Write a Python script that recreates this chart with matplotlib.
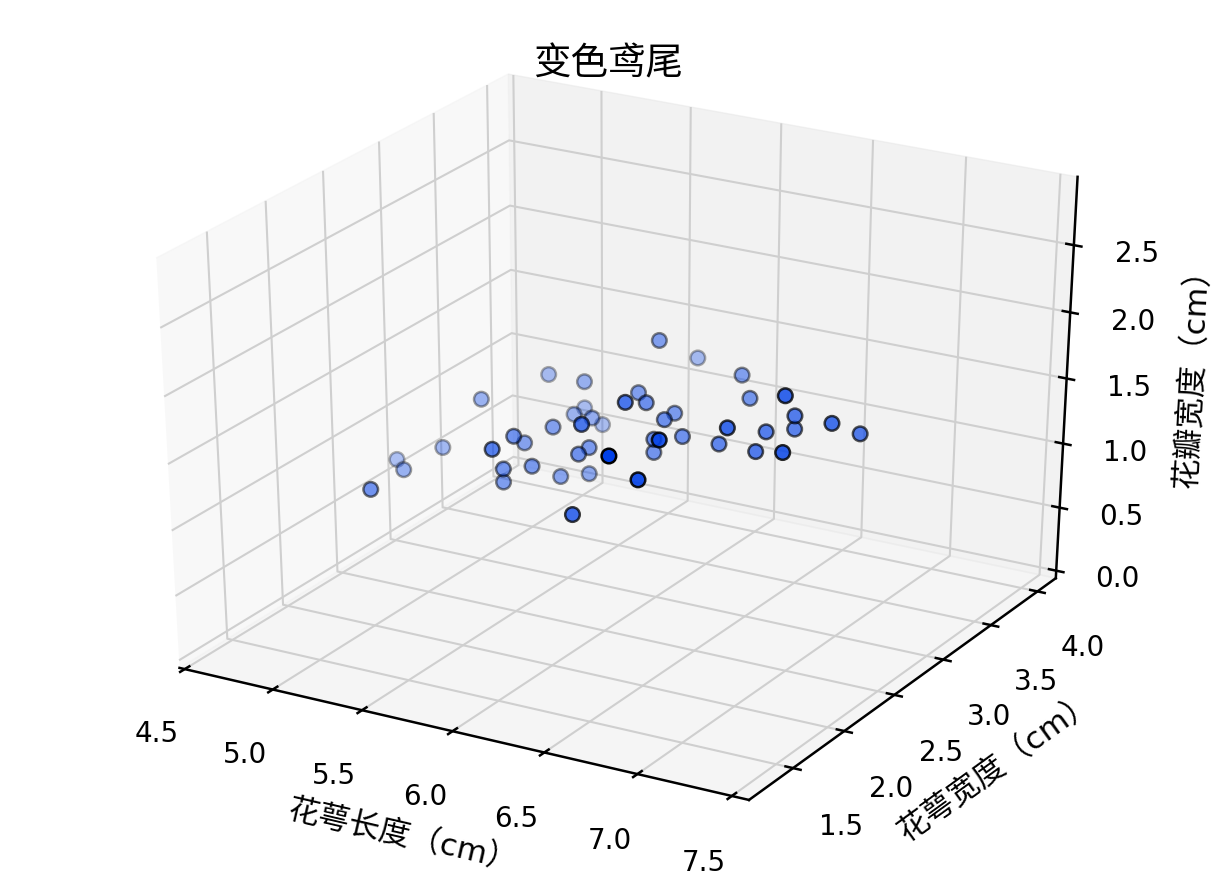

# iris versicolor, 3D scatter of sepal length / sepal width / petal width
import matplotlib
matplotlib.use('Agg')
import matplotlib.pyplot as plt
from mpl_toolkits.mplot3d import Axes3D

plt.rcParams['font.family'] = ['DejaVu Sans', 'Noto Sans CJK SC']
plt.rcParams['axes.linewidth'] = 1.8

sepal_length = [7.0, 6.4, 6.9, 5.5, 6.5, 5.7, 6.3, 4.9, 6.6, 5.2, 5.0, 5.9, 6.0, 6.1, 5.6, 6.7, 5.6,
                5.8, 6.2, 5.6, 5.9, 6.1, 6.3, 6.1, 6.4, 6.6, 6.8, 6.7, 6.0, 5.7, 5.5, 5.5, 5.8, 6.0,
                5.4, 6.0, 6.7, 6.3, 5.6, 5.5, 5.5, 6.1, 5.8, 5.0, 5.6, 5.7, 5.7, 6.2, 5.1, 5.7]
sepal_width = [3.2, 3.2, 3.1, 2.3, 2.8, 2.8, 3.3, 2.4, 2.9, 2.7, 2.0, 3.0, 2.2, 2.9, 2.9, 3.1, 3.0,
               2.7, 2.2, 2.5, 3.2, 2.8, 2.5, 2.8, 2.9, 3.0, 2.8, 3.0, 2.9, 2.6, 2.4, 2.4, 2.7, 2.7,
               3.0, 3.4, 3.1, 2.3, 3.0, 2.5, 2.6, 3.0, 2.6, 2.3, 2.7, 3.0, 2.9, 2.9, 2.5, 2.8]
petal_width = [1.4, 1.5, 1.5, 1.3, 1.5, 1.3, 1.6, 1.0, 1.3, 1.4, 1.0, 1.5, 1.0, 1.4, 1.3, 1.4, 1.5,
               1.0, 1.5, 1.1, 1.8, 1.3, 1.5, 1.2, 1.3, 1.4, 1.4, 1.7, 1.5, 1.0, 1.1, 1.0, 1.2, 1.6,
               1.5, 1.6, 1.5, 1.3, 1.3, 1.3, 1.2, 1.4, 1.2, 1.0, 1.3, 1.2, 1.3, 1.3, 1.1, 1.3]

x_ticks = [4.5, 5.0, 5.5, 6.0, 6.5, 7.0, 7.5]
y_ticks = [1.5, 2.0, 2.5, 3.0, 3.5, 4.0]
z_ticks = [0.0, 0.5, 1.0, 1.5, 2.0, 2.5]

fig = plt.figure(figsize=(12.16, 8.79), dpi=100)
ax = fig.add_subplot(111, projection='3d')
# old mplot3d stretched the cube over the whole axes box
ax.set_box_aspect((1, 1, 1), zoom=0.909)
ax.apply_aspect = lambda position=None: None
ax.set_position([0.0, 0.01, 1.0, 0.985])

ax.scatter(sepal_length, sepal_width, petal_width, c='#0040e8', edgecolors='k', s=110, linewidths=1.8)

ax.set_xlim(4.47, 7.59)
ax.set_ylim(1.08, 4.2)
ax.set_zlim(-0.06, 3)
ax.set_xticks(x_ticks)
ax.set_yticks(y_ticks)
ax.set_zticks(z_ticks)
ax.tick_params(labelsize=20)
ax.tick_params(axis='x', pad=24)
ax.tick_params(axis='y', pad=24)
ax.tick_params(axis='z', pad=20)

for axis in (ax.xaxis, ax.yaxis, ax.zaxis):
    axis._axinfo['grid']['color'] = '#cfcfcf'
    axis._axinfo['grid']['linewidth'] = 1.5
    axis._axinfo['tick']['linewidth'] = {True: 1.8, False: 1.4}
    axis._axinfo['tick']['inward_factor'] = 0.16
    axis._axinfo['tick']['outward_factor'] = 0.16

ax.set_xlabel('花萼长度（cm）', fontsize=22.5, labelpad=43)
ax.set_ylabel('花萼宽度（cm）', fontsize=22.5, labelpad=40)
ax.set_zlabel('花瓣宽度（cm）', fontsize=22.5, labelpad=36)
ax.set_title('变色鸢尾', fontsize=27, y=0.989)

fig.savefig('out.png', dpi=100)
